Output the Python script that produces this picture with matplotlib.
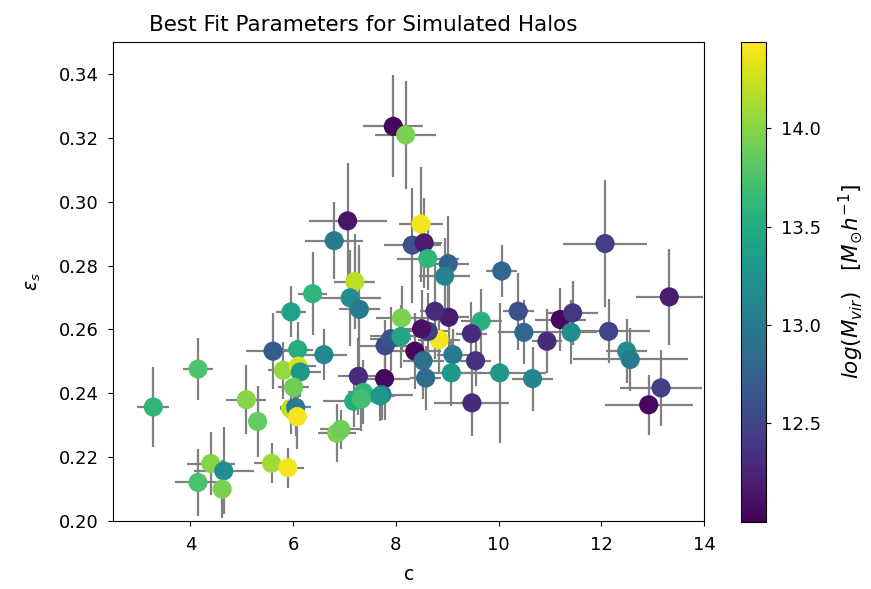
#!/usr/bin/env python

import numpy as np
import matplotlib
matplotlib.use('Agg')
import matplotlib.pyplot as plt

# ----------------
# DATA
# ----------------

conc = [3.28, 4.15, 4.15, 4.40, 4.65, 4.62, 5.09, 5.31, 5.58, 5.90,
        5.61, 5.96, 6.09, 5.81, 6.10, 6.14, 6.01, 5.95, 6.05, 6.08,
        6.60, 6.38, 6.85, 6.93, 7.20, 7.27, 7.37, 7.18, 7.33, 7.78,
        7.73, 7.69, 7.79, 7.90, 8.11, 8.10, 7.11, 7.29, 6.80, 7.06,
        7.95, 8.19, 8.49, 8.32, 8.55, 8.62, 9.02, 8.95, 10.06, 12.07,
        13.32, 11.20, 11.44, 11.41, 10.94, 12.14, 12.49, 12.56, 13.16, 12.92,
        10.66, 10.38, 10.49, 10.02, 9.66, 9.47, 9.55, 9.48, 9.11, 9.08,
        9.03, 8.76, 8.84, 8.63, 8.50, 8.37, 8.53, 8.58]

eps = [0.2357, 0.2476, 0.2121, 0.2180, 0.2157, 0.2100, 0.2380, 0.2312, 0.2181, 0.2167,
       0.2532, 0.2655, 0.2537, 0.2472, 0.2485, 0.2467, 0.2419, 0.2352, 0.2356, 0.2327,
       0.2521, 0.2712, 0.2275, 0.2287, 0.2750, 0.2453, 0.2403, 0.2375, 0.2382, 0.2446,
       0.2396, 0.2392, 0.2549, 0.2571, 0.2636, 0.2578, 0.2699, 0.2663, 0.2878, 0.2940,
       0.3236, 0.3209, 0.2930, 0.2864, 0.2871, 0.2822, 0.2806, 0.2767, 0.2783, 0.2869,
       0.2702, 0.2631, 0.2652, 0.2591, 0.2563, 0.2594, 0.2532, 0.2506, 0.2417, 0.2364,
       0.2446, 0.2657, 0.2591, 0.2464, 0.2626, 0.2587, 0.2502, 0.2370, 0.2521, 0.2464,
       0.2638, 0.2657, 0.2568, 0.2594, 0.2602, 0.2532, 0.2502, 0.2448]

conc_err = [0.31, 0.30, 0.45, 0.47, 0.58, 0.10, 0.39, 0.18, 0.35, 0.31,
            0.53, 0.30, 0.30, 0.30, 0.35, 0.40, 0.30, 0.20, 0.30, 0.20,
            0.45, 0.28, 0.37, 0.40, 0.40, 0.40, 0.30, 0.60, 0.30, 0.50,
            0.60, 0.30, 0.50, 0.40, 0.50, 0.60, 0.60, 0.40, 0.57, 0.76,
            0.58, 0.60, 0.42, 0.55, 0.35, 0.60, 0.40, 0.50, 0.30, 0.81,
            0.65, 0.50, 0.50, 0.50, 0.30, 0.80, 0.40, 1.12, 0.80, 0.86,
            0.40, 0.30, 0.50, 0.90, 0.40, 0.30, 0.30, 0.73, 0.30, 0.60,
            0.40, 0.30, 0.40, 0.40, 0.30, 0.50, 0.40, 0.30]

eps_err = [0.0126, 0.0096, 0.0104, 0.0099, 0.0136, 0.0090, 0.0108, 0.0110, 0.0063, 0.0063,
           0.0120, 0.0080, 0.0085, 0.0090, 0.0100, 0.0080, 0.0090, 0.0080, 0.0090, 0.0100,
           0.0080, 0.0130, 0.0090, 0.0060, 0.0150, 0.0120, 0.0100, 0.0080, 0.0100, 0.0130,
           0.0080, 0.0080, 0.0080, 0.0100, 0.0100, 0.0100, 0.0150, 0.0200, 0.0120, 0.0180,
           0.0160, 0.0170, 0.0180, 0.0180, 0.0140, 0.0100, 0.0150, 0.0120, 0.0080, 0.0200,
           0.0150, 0.0100, 0.0100, 0.0100, 0.0100, 0.0100, 0.0100, 0.0100, 0.0118, 0.0094,
           0.0100, 0.0120, 0.0100, 0.0220, 0.0100, 0.0100, 0.0080, 0.0105, 0.0080, 0.0105,
           0.0140, 0.0150, 0.0100, 0.0120, 0.0120, 0.0120, 0.0120, 0.0100]

log_mvir = [13.60, 13.75, 13.75, 14.00, 13.20, 13.95, 14.00, 13.85, 14.10, 14.40,
            12.70, 13.40, 13.50, 14.05, 14.30, 13.30, 13.90, 14.20, 13.00, 14.40,
            13.15, 13.60, 13.95, 13.90, 14.20, 12.30, 13.60, 13.50, 13.70, 12.05,
            12.95, 13.30, 12.55, 12.65, 13.95, 13.45, 13.20, 13.00, 13.00, 12.15,
            12.05, 13.95, 14.40, 12.60, 12.20, 13.60, 12.75, 13.10, 12.80, 12.45,
            12.20, 12.05, 12.40, 13.20, 12.30, 12.50, 13.20, 13.00, 12.45, 12.05,
            13.10, 12.60, 12.80, 13.30, 13.55, 12.30, 12.35, 12.30, 13.00, 13.30,
            12.20, 12.30, 14.40, 12.45, 12.10, 12.05, 12.90, 12.85]

# ----------------
# Plot
# ----------------

fig = plt.figure(figsize=(8.71, 5.89), dpi=100)
ax = fig.add_axes([0.130, 0.1154, 0.6785, 0.8132])
cax = fig.add_axes([0.851, 0.114, 0.029, 0.815])

ax.errorbar(conc, eps, xerr=conc_err, yerr=eps_err, fmt='none',
            ecolor='gray', elinewidth=1.6, capsize=0, zorder=1)
sc = ax.scatter(conc, eps, c=log_mvir, cmap='viridis', vmin=12.0, vmax=14.44,
                s=190, edgecolors='none', zorder=2)

ax.set_xlim(2.5, 14)
ax.set_ylim(0.20, 0.35)
ax.set_xticks(np.arange(4, 15, 2))
ax.set_yticks(np.arange(0.20, 0.345, 0.02))
ax.tick_params(labelsize=13, pad=7)
ax.set_xlabel('c', fontsize=13.5, labelpad=8)
ax.set_ylabel(r'$\epsilon_s$', fontsize=13.5, labelpad=11)
ax.set_title('Best Fit Parameters for Simulated Halos', fontsize=15.5,
             x=0.423, pad=8)

cb = fig.colorbar(sc, cax=cax)
cb.set_ticks([12.5, 13.0, 13.5, 14.0])
cb.ax.tick_params(labelsize=13, pad=7)
cb.set_label(r'$log(M_{vir})$   $[M_{\odot} h^{-1}]$', fontsize=15.5, labelpad=11)

fig.savefig('out.png', dpi=100)
plt.close(fig)
